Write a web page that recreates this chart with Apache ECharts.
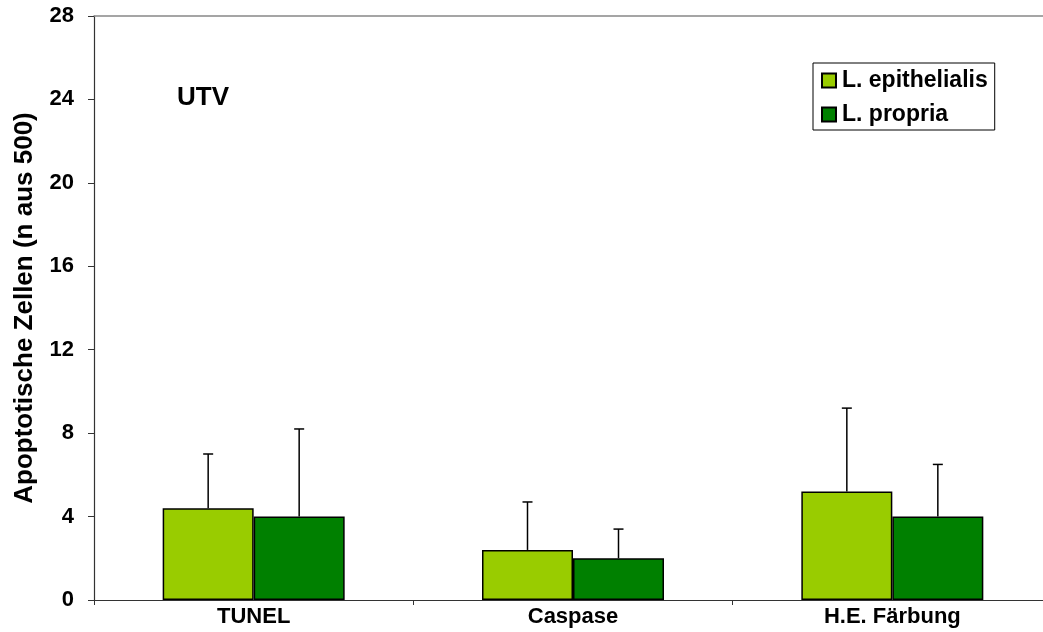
<!DOCTYPE html>
<html>
<head>
<meta charset="utf-8">
<script src="https://cdn.jsdelivr.net/npm/echarts@6/dist/echarts.min.js"></script>
<style>
  html, body { margin: 0; padding: 0; background: #fff; }
  #chart { width: 1043px; height: 632px; }
</style>
</head>
<body>
<div id="chart"></div>
<script>
const categories = ['TUNEL', 'Caspase', 'H.E. Färbung']
const seriesNames = ['L. epithelialis', 'L. propria']
const epithelialis = [4.4, 2.4, 5.2]
const propria = [4.0, 2.0, 4.0]
const epithelialisErr = [2.6, 2.3, 4.0]
const propriaErr = [4.2, 1.4, 2.5]
const yTicks = [0, 4, 8, 12, 16, 20, 24, 28]

const colors = ['#99cc00', '#008000']
const barPx = 91
const font = 'Liberation Sans, Arial, Helvetica, sans-serif'

// upward-only error bar with a small cap, drawn at the centre of each bar
const errorSeries = (values, errors, side) => ({
  type: 'custom',
  silent: true,
  z: 3,
  data: values.map((v, i) => [i, v, v + errors[i]]),
  renderItem: (params, api) => {
    const base = api.coord([api.value(0), api.value(1)])
    const top = api.coord([api.value(0), api.value(2)])
    const x = base[0] + side * barPx / 2
    const style = { stroke: '#000', lineWidth: 1.5 }
    return {
      type: 'group',
      children: [
        { type: 'line', shape: { x1: x, y1: base[1], x2: x, y2: top[1] }, style },
        { type: 'line', shape: { x1: x - 5, y1: top[1], x2: x + 5, y2: top[1] }, style }
      ]
    }
  }
})

const chart = echarts.init(document.getElementById('chart'), null, { renderer: 'canvas' })

chart.setOption({
  animation: false,
  backgroundColor: '#fff',
  textStyle: { fontFamily: font },
  title: {
    text: 'UTV',
    left: 177,
    top: 85,
    padding: 0,
    textStyle: { fontFamily: font, fontSize: 26, fontWeight: 'bold', color: '#000' }
  },
  legend: {
    orient: 'vertical',
    left: 813,
    top: 63,
    padding: [6, 7, 4, 8],
    itemGap: 11,
    itemWidth: 14,
    itemHeight: 14,
    icon: 'rect',
    borderColor: '#000',
    borderWidth: 1,
    data: seriesNames,
    textStyle: { fontFamily: font, fontSize: 23, fontWeight: 'bold', color: '#000', padding: [0, 0, 0, 1] }
  },
  grid: { left: 94, top: 16, width: 958, height: 584, outerBoundsMode: 'none', containLabel: false },
  xAxis: [
    {
      type: 'category',
      data: categories,
      position: 'bottom',
      axisLine: { lineStyle: { color: '#333', width: 1.2 } },
      axisTick: { show: true, length: 5, alignWithLabel: false, lineStyle: { color: '#333' } },
      axisLabel: { margin: 6, color: '#000', fontFamily: font, fontSize: 22, fontWeight: 'bold' },
      splitLine: { show: false }
    },
    {
      type: 'category',
      data: categories,
      position: 'top',
      axisLine: { lineStyle: { color: '#888', width: 1.5 } },
      axisTick: { show: false },
      axisLabel: { show: false }
    }
  ],
  yAxis: {
    type: 'value',
    min: 0,
    max: 28,
    interval: 4,
    name: 'Apoptotische Zellen (n aus 500)',
    nameLocation: 'middle',
    nameGap: 56,
    nameTextStyle: { fontFamily: font, fontSize: 26, fontWeight: 'bold', color: '#000' },
    axisLine: { show: true, lineStyle: { color: '#333', width: 1.2 } },
    axisTick: { show: true, length: 6, lineStyle: { color: '#333' } },
    axisLabel: {
      margin: 20,
      color: '#000',
      fontFamily: font,
      fontSize: 22,
      fontWeight: 'bold',
      formatter: v => (yTicks.includes(v) ? String(v) : '')
    },
    splitLine: { show: false }
  },
  series: [
    {
      name: seriesNames[0],
      type: 'bar',
      data: epithelialis,
      barWidth: barPx,
      barGap: '0%',
      itemStyle: { color: colors[0], borderColor: '#000', borderWidth: 1.5 },
      z: 2
    },
    {
      name: seriesNames[1],
      type: 'bar',
      data: propria,
      barWidth: barPx,
      barGap: '0%',
      itemStyle: { color: colors[1], borderColor: '#000', borderWidth: 1.5 },
      z: 2
    },
    errorSeries(epithelialis, epithelialisErr, -1),
    errorSeries(propria, propriaErr, 1)
  ]
})

window.addEventListener('resize', () => chart.resize())
</script>
</body>
</html>
